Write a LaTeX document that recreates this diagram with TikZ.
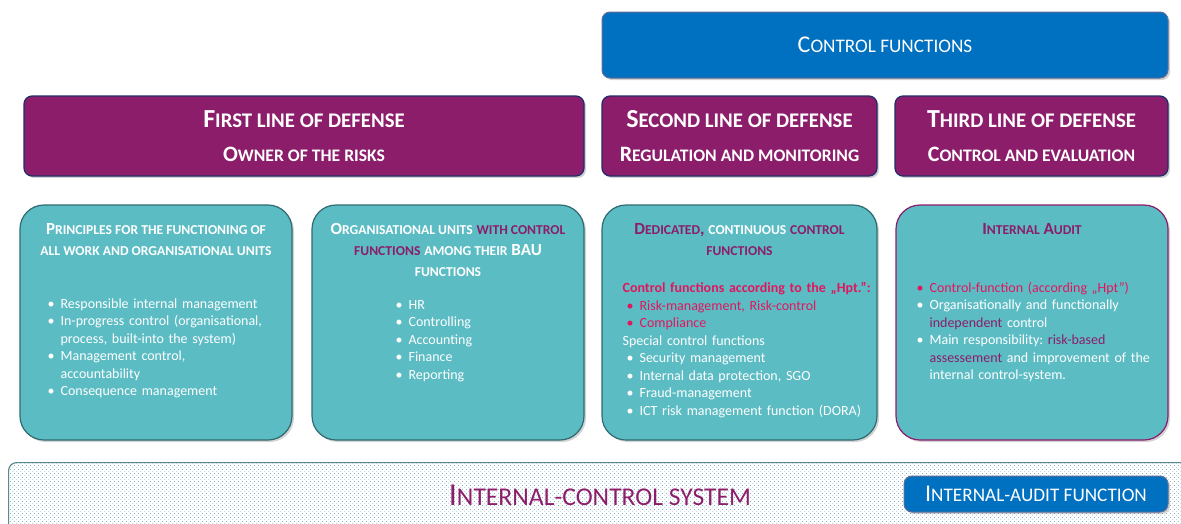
\documentclass[tikz,border=0pt]{standalone}
\usepackage{fontspec}
\setmainfont{Carlito}
\usetikzlibrary{positioning,shadows,patterns}

\definecolor{lodpurple}{HTML}{8C1D6A}
\definecolor{lodblue}{HTML}{0070C0}
\definecolor{lodteal}{HTML}{5BBCC4}
\definecolor{lodedge}{HTML}{2F6B70}
\definecolor{lodnavy}{HTML}{1F2D6B}
\definecolor{lodred}{HTML}{E2165E}
\definecolor{loddot}{HTML}{6FA3B3}

\makeatletter
\newcommand\fakesc[1]{{\fontsize{\fpeval{0.8*\f@size}}{\f@baselineskip}\selectfont\MakeUppercase{#1}}}
\makeatother
\newcommand\setfs[2]{\fontsize{#1}{#2}\selectfont}
\newcommand\itm[1]{\par\hangindent=17pt\hangafter=1\noindent\hbox to 17pt{\hspace{4pt}\textbullet\hfil}#1\par}
\frenchspacing

\pgfdeclarepatternformonly{lodots}{\pgfpointorigin}{\pgfpoint{4pt}{4pt}}{\pgfpoint{4pt}{4pt}}{%
  \pgfpathcircle{\pgfpoint{1pt}{1pt}}{0.6pt}\pgfpathcircle{\pgfpoint{3pt}{3pt}}{0.6pt}\pgfusepath{fill}}

\tikzset{
  lodshadow/.style={drop shadow={shadow xshift=2pt, shadow yshift=-2pt, opacity=0.35}},
  ctrlbox/.style={draw=lodnavy!70, line width=1pt, fill=lodblue, rounded corners=8pt, text=white, align=center, lodshadow},
  headbox/.style={draw=lodnavy, line width=1.2pt, fill=lodpurple, rounded corners=8pt, text=white, align=center, minimum height=80pt, font=\bfseries, lodshadow},
  unitbox/.style={draw=lodedge, line width=1.2pt, fill=lodteal, rounded corners=24pt, minimum height=235pt, lodshadow},
  unittitle/.style={text=white, align=center, font=\bfseries\setfs{17}{21}},
  unitlist/.style={text=white, align=left, font=\setfs{14}{17.5}},
  icsband/.style={draw=lodedge!80, line width=1.2pt, rounded corners=8pt, pattern=lodots, pattern color=loddot},
}

\begin{document}
\begin{tikzpicture}[x=1pt, y=-1pt, every node/.style={inner sep=0pt}]
    \useasboundingbox (0,0) rectangle (1181,523);

    \node[ctrlbox, minimum width=566pt, minimum height=66pt] (ctrl) at (885,45) {\setfs{24}{28}C\fakesc{ontrol functions}};

    \node[headbox, minimum width=560pt] (first)  at (304,136)    {\setfs{26}{26}F\fakesc{irst line of defense}\\[18pt]\setfs{22}{26}O\fakesc{wner of the risks}};
    \node[headbox, minimum width=275pt] (second) at (739.5,136)  {\setfs{26}{26}S\fakesc{econd line of defense}\\[18pt]\setfs{22}{26}R\fakesc{egulation and monitoring}};
    \node[headbox, minimum width=273pt] (third)  at (1031.5,136) {\setfs{26}{26}T\fakesc{hird line of defense}\\[18pt]\setfs{22}{26}C\fakesc{ontrol and evaluation}};

    \node[unitbox, minimum width=272pt] (u1) at (156,322.5) {};
    \node[unitbox, minimum width=272pt] (u2) at (448,322.5) {};
    \node[unitbox, minimum width=275pt] (u3) at (739.5,322.5) {};
    \node[unitbox, minimum width=272pt, draw=lodpurple] (u4) at (1032,322.5) {};

    \node[unittitle, below=19pt of u1.north] (u1t) {P\fakesc{rinciples for the functioning of}\\\fakesc{all work and organisational units}};
    \node[unitlist, text width=240pt, below right=86pt and 24pt of u1.north west] (u1l) {%
        \itm{Responsible internal management}%
        \itm{In-progress control (organisational,\newline process, built-into the system)}%
        \itm{Management control,\newline accountability}%
        \itm{Consequence management}};

    \node[unittitle, below=19pt of u2.north] (u2t) {O\fakesc{rganisational units} \textcolor{lodpurple}{\fakesc{with control}}\\\textcolor{lodpurple}{\fakesc{functions}} \fakesc{among their} BAU\\\fakesc{functions}};
    \node[unitlist, text width=160pt, below right=87pt and 80pt of u2.north west] (u2l) {%
        \itm{HR}\itm{Controlling}\itm{Accounting}\itm{Finance}\itm{Reporting}};

    \node[unittitle, below=19pt of u3.north] (u3t) {\textcolor{lodpurple}{D\fakesc{edicated},} \fakesc{continuous} \textcolor{lodpurple}{\fakesc{control}}\\\textcolor{lodpurple}{\fakesc{functions}}};
    \node[unitlist, text width=250pt, below right=78pt and 21pt of u3.north west] (u3l) {%
        {\color{lodred}\textbf{Control functions according to the „Hpt.”:}\par
        \itm{Risk-management, Risk-control}%
        \itm{Compliance}}%
        \noindent Special control functions\par
        \itm{Security management}%
        \itm{Internal data protection, SGO}%
        \itm{Fraud-management}%
        \itm{ICT risk management function (DORA)}};

    \node[unittitle, below=19pt of u4.north, text=lodpurple] (u4t) {I\fakesc{nternal} A\fakesc{udit}};
    \node[unitlist, text width=250pt, below right=70pt and 17pt of u4.north west] (u4l) {%
        {\color{lodred}\itm{Control-function (according „Hpt”)}}%
        \itm{Organisationally and functionally\newline \textcolor{lodpurple}{independent} control}%
        \itm{Main responsibility: \textcolor{lodpurple}{risk-based}\newline \textcolor{lodpurple}{assessement} and improvement of the\newline internal control-system.}};

    \node[icsband, minimum width=1200pt, minimum height=80pt, anchor=north west] (ics) at (8,462) {};
    \node[text=lodpurple, font=\setfs{32}{36}] (icst) at (600,495) {I\fakesc{nternal-control system}};
    \node[ctrlbox, minimum width=264pt, minimum height=36pt, font=\setfs{24}{28}] (audit) at (1036,494) {I\fakesc{nternal-audit function}};
\end{tikzpicture}
\end{document}
